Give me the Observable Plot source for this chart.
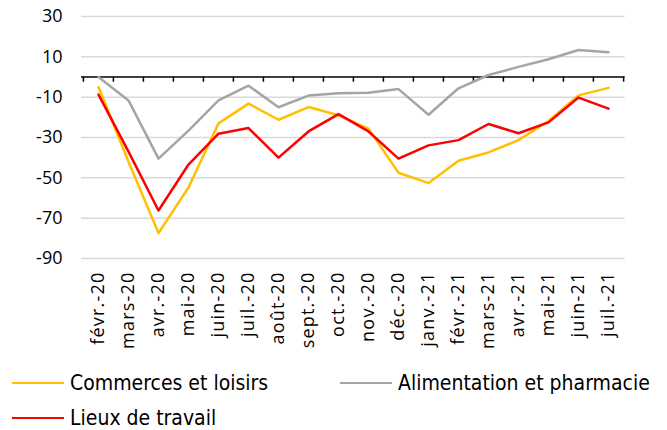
<!DOCTYPE html>
<html><head><meta charset="utf-8">
<script src="https://cdn.jsdelivr.net/npm/d3@7"></script>
<script src="https://cdn.jsdelivr.net/npm/@observablehq/plot@0.6"></script>
<style>
html,body{margin:0;padding:0;background:#fff;}
#chart svg{display:block;}
#chart svg g[aria-label="x-axis tick label"] text{letter-spacing:1.2px;}
#legend{position:relative;width:667px;height:70px;font-family:"DejaVu Sans Condensed","DejaVu Sans",sans-serif;font-stretch:condensed;font-size:21px;color:#000;}
.item{position:absolute;display:flex;align-items:center;white-space:nowrap;}
.swatch{display:inline-block;width:52px;height:2.5px;margin-right:6px;}
</style></head><body>
<div id="chart"></div>
<div id="legend"></div>
<script>
const months = ["févr.-20","mars-20","avr.-20","mai-20","juin-20","juil.-20","août-20","sept.-20","oct.-20","nov.-20","déc.-20","janv.-21","févr.-21","mars-21","avr.-21","mai-21","juin-21","juil.-21"];
const commerces    = [-5, -42, -77.4, -54.8, -23, -13.2, -21.2, -14.9, -19, -25.6, -47.5, -52.6, -41.5, -37.4, -31.3, -21.8, -9.1, -5.4];
const alimentation = [0, -11.6, -40.5, -26.6, -11.6, -4.3, -15, -9.2, -8.1, -7.8, -6, -18.7, -5.6, 1, 5, 8.8, 13.4, 12.3];
const travail      = [-8.7, -37, -66.2, -43.4, -28.1, -25.3, -40, -27, -18.4, -27, -40.5, -33.9, -31.3, -23.3, -27.9, -22.5, -10.2, -15.7];
const seriesNames  = ["Commerces et loisirs", "Alimentation et pharmacie", "Lieux de travail"];
const seriesColors = ["#FFC000", "#A5A5A5", "#FF0000"];
const yTicks = [30, 10, -10, -30, -50, -70, -90];

const seriesValues = [commerces, alimentation, travail];
const data = [];
seriesNames.forEach((s, i) => months.forEach((m, j) => data.push({series: s, month: m, value: seriesValues[i][j]})));

const W = 667, ML = 81, MR = 42.4;
const step = (W - ML - MR) / months.length;

const plot = Plot.plot({
  width: W, height: 360,
  marginLeft: ML, marginRight: MR, marginTop: 16, marginBottom: 102,
  x: {type: "point", domain: months, padding: 0.5, tickRotate: -90, tickSize: 0, tickPadding: 13, label: null},
  y: {domain: [-90, 30], ticks: yTicks, tickSize: 0, tickPadding: 19, label: null, tickFormat: d => String(d)},
  color: {domain: seriesNames, range: seriesColors},
  style: {fontFamily: "'Open Sans', sans-serif", fontSize: "18px", color: "#000", background: "#fff", overflow: "visible"},
  marks: [
    Plot.ruleY(yTicks, {stroke: "#d9d9d9", strokeWidth: 1.5}),
    Plot.ruleY([0], {stroke: "#000", strokeWidth: 1.5}),
    Plot.ruleX(months, {y1: 0, y2: -2.6, dx: -step / 2, stroke: "#000", strokeWidth: 1.5}),
    Plot.ruleX(months.slice(-1), {y1: 0, y2: -2.6, dx: step / 2, stroke: "#000", strokeWidth: 1.5}),
    Plot.line(data, {x: "month", y: "value", z: "series", stroke: "series", strokeWidth: 2.5})
  ]
});
document.getElementById("chart").appendChild(plot);

const legendPos = [{left: 12, top: 23}, {left: 340, top: 23}, {left: 12, top: 58}];
const legend = document.getElementById("legend");
seriesNames.forEach((s, i) => {
  const it = document.createElement("div");
  it.className = "item";
  it.style.left = legendPos[i].left + "px";
  it.style.top = (legendPos[i].top - 12) + "px";
  it.style.height = "24px";
  const sw = document.createElement("span");
  sw.className = "swatch";
  sw.style.background = seriesColors[i];
  const t = document.createElement("span");
  t.textContent = s;
  it.appendChild(sw); it.appendChild(t);
  legend.appendChild(it);
});
</script>
</body></html>
